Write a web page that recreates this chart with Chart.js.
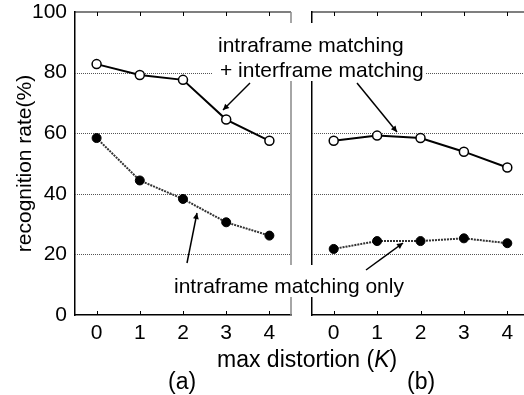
<!DOCTYPE html>
<html><head><meta charset="utf-8">
<script src="https://cdn.jsdelivr.net/npm/chart.js@4"></script>
<style>
html,body{margin:0;padding:0;overflow:hidden;background:#fff;width:524px;height:395px}
#wrap{position:relative;width:524px;height:395px;overflow:hidden}
#c1,#c2{position:absolute;top:0}
#c1{left:0}
#c2{left:300px}
svg{position:absolute;left:0;top:0}
svg text{font-family:"Liberation Sans",Arial,sans-serif;font-size:21px;fill:#000}
svg text.big{font-size:23px}
</style></head><body>
<div id="wrap">
<canvas id="c1" width="300" height="395"></canvas>
<canvas id="c2" width="240" height="395"></canvas>
<svg width="524" height="395" viewBox="0 0 524 395">
  <defs>
    <marker id="ah" viewBox="0 0 10 10" refX="10" refY="5" markerWidth="8" markerHeight="6" orient="auto" markerUnits="userSpaceOnUse">
      <path d="M0,0 L10,5 L0,10 z" fill="#000"/>
    </marker>
  </defs>
  <rect x="213" y="23" width="212" height="58" fill="#fff"/>
  <rect x="170" y="265" width="238" height="32" fill="#fff"/>
  <text x="218" y="52">intraframe matching</text>
  <text x="220" y="77">+ interframe matching</text>
  <text x="174" y="293">intraframe matching only</text>
  <text class="big" x="217" y="367">max distortion (<tspan font-style="italic">K</tspan>)</text>
  <text class="big" x="168" y="389">(a)</text>
  <text class="big" x="407" y="389">(b)</text>
  <line x1="250" y1="83" x2="223" y2="110" stroke="#000" stroke-width="1.5" marker-end="url(#ah)"/>
  <line x1="357" y1="83" x2="397" y2="132" stroke="#000" stroke-width="1.5" marker-end="url(#ah)"/>
  <line x1="187" y1="263" x2="197" y2="213" stroke="#000" stroke-width="1.5" marker-end="url(#ah)"/>
  <line x1="366" y1="270" x2="403" y2="243" stroke="#000" stroke-width="1.5" marker-end="url(#ah)"/>
</svg>
</div>
<script>
// ---- data ----
const kLabels = ['0', '1', '2', '3', '4'];
const aCombined = [82.8, 79.2, 77.6, 64.5, 57.5];   // (a) intraframe + interframe matching
const aIntra    = [58.4, 44.4, 38.3, 30.6, 26.2];   // (a) intraframe matching only
const bCombined = [57.5, 59.2, 58.4, 53.9, 48.7];   // (b) intraframe + interframe matching
const bIntra    = [21.8, 24.4, 24.4, 25.3, 23.7];   // (b) intraframe matching only
const yMin = 0, yMax = 100, yStep = 20;

Chart.defaults.font.family = '"Liberation Sans", Arial, sans-serif';
Chart.defaults.font.size = 21;
Chart.defaults.color = '#000';

const framePlugin = {
  id: 'frame',
  beforeDatasetsDraw(chart, args, opts) {
    const ctx = chart.ctx, a = chart.chartArea, x = chart.scales.x, y = chart.scales.y;
    ctx.save();
    ctx.strokeStyle = '#555'; ctx.lineWidth = 1; ctx.setLineDash([1, 1]);
    y.ticks.forEach(t => {
      if (t.value <= yMin || t.value >= yMax) return;
      const py = Math.round(y.getPixelForValue(t.value)) + 0.5;
      ctx.beginPath(); ctx.moveTo(a.left, py); ctx.lineTo(a.right, py); ctx.stroke();
    });
    ctx.setLineDash([]);
    ctx.strokeStyle = '#000'; ctx.lineWidth = 1.2;
    ctx.beginPath(); ctx.moveTo(a.left, a.top); ctx.lineTo(a.right, a.top); ctx.stroke();
    ctx.lineWidth = 1;
    x.ticks.forEach((t, i) => {
      const px = Math.round(x.getPixelForTick(i)) + 0.5;
      ctx.beginPath();
      ctx.moveTo(px, a.top); ctx.lineTo(px, a.top + 4);
      ctx.moveTo(px, a.bottom); ctx.lineTo(px, a.bottom - 4);
      ctx.stroke();
    });
    if (opts.right) {
      ctx.strokeStyle = opts.right; ctx.lineWidth = 1.5;
      ctx.beginPath(); ctx.moveTo(a.right, a.top); ctx.lineTo(a.right, a.bottom); ctx.stroke();
    }
    ctx.restore();
  }
};

function makeChart(id, combined, intra, isLeft) {
  return new Chart(document.getElementById(id), {
    type: 'line',
    data: {
      labels: kLabels,
      datasets: [
        { data: combined, borderColor: '#000', borderWidth: 2, pointRadius: 4.5, pointBorderWidth: 1.5,
          pointBackgroundColor: '#fff', pointBorderColor: '#000', tension: 0 },
        { data: intra, borderColor: '#333', borderWidth: 2, borderDash: [2, 1], pointRadius: 4.5,
          pointBorderWidth: 1, pointBackgroundColor: '#000', pointBorderColor: '#000', tension: 0 }
      ]
    },
    options: {
      responsive: false, animation: false,
      layout: { autoPadding: false, padding: { left: 0, top: 12, right: isLeft ? 9 : 11, bottom: 0 } },
      plugins: { legend: { display: false }, tooltip: { enabled: false },
                 frame: { right: isLeft ? '#888' : null } },
      scales: {
        x: {
          type: 'category', offset: true,
          grid: { display: false, drawTicks: false },
          border: { display: true, color: '#000', width: 1.5 },
          ticks: { padding: 6, maxRotation: 0 },
          afterFit: s => { s.height = 80; s.paddingLeft = 0; s.paddingRight = 0; }
        },
        y: {
          min: yMin, max: yMax,
          grid: { display: false, drawTicks: false },
          border: { display: true, color: '#000', width: 1.5 },
          ticks: { display: isLeft, stepSize: yStep, padding: 8 },
          title: { display: isLeft, text: 'recognition rate(%)', padding: { top: 13, bottom: 0 } },
          afterFit: s => { s.width = isLeft ? 75 : 12; s.paddingTop = 0; s.paddingBottom = 0; }
        }
      }
    },
    plugins: [framePlugin]
  });
}
makeChart('c1', aCombined, aIntra, true);
makeChart('c2', bCombined, bIntra, false);
</script>
</body></html>
